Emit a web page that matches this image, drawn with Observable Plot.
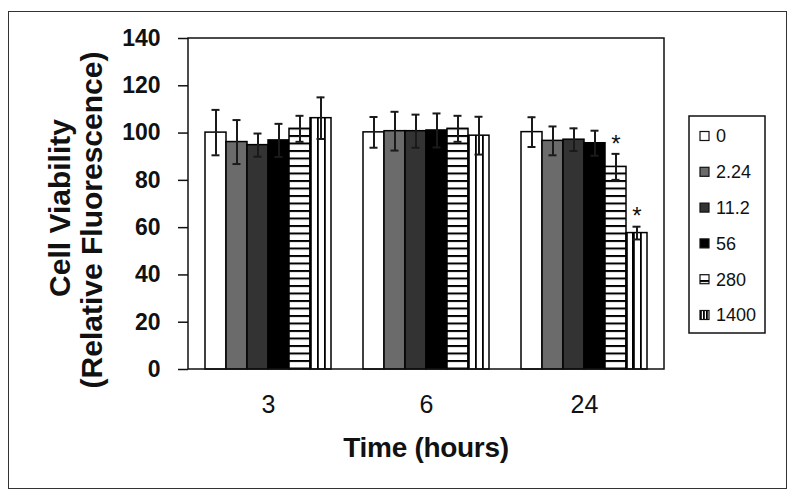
<!DOCTYPE html>
<html><head><meta charset="utf-8">
<script src="https://cdn.jsdelivr.net/npm/d3@7"></script>
<script src="https://cdn.jsdelivr.net/npm/@observablehq/plot@0.6"></script>
<style>
body{margin:0;background:#fff;font-family:"Liberation Sans",Arial,sans-serif;}
#wrap{position:relative;width:800px;height:502px;overflow:hidden;}
#border{position:absolute;left:8px;top:11px;width:779px;height:478px;border:1.5px solid #333;box-sizing:border-box;}
#chart{position:absolute;left:0;top:0;}
#legend{position:absolute;left:688px;top:115px;}
</style></head><body>
<div id="wrap"><div id="border"></div><div id="chart"></div><div id="legend"></div></div>
<script>
// ---- data ----
const times = ["3", "6", "24"];
const concentrations = ["0", "2.24", "11.2", "56", "280", "1400"];
const means3  = [100.2, 96.2, 94.9, 96.9, 101.8, 106.3];
const errs3   = [9.6, 9.3, 4.9, 7.0, 5.5, 8.8];
const means6  = [100.3, 100.8, 100.8, 101.1, 101.8, 98.9];
const errs6   = [6.5, 8.2, 7.0, 7.2, 5.5, 8.0];
const means24 = [100.4, 96.7, 97.2, 95.7, 85.7, 57.7];
const errs24  = [6.3, 6.1, 4.8, 5.3, 5.5, 2.7];
const signif24 = [false, false, false, false, true, true];
const yTicks = [0, 20, 40, 60, 80, 100, 120, 140];
const fills = ["#ffffff", "#6b6b6b", "#333333", "#000000", "url(#hstripes)", "url(#vstripes)"];

const series = {"3": [means3, errs3, null], "6": [means6, errs6, null], "24": [means24, errs24, signif24]};
const data = [];
for (const t of times) {
  const [m, e, s] = series[t];
  concentrations.forEach((c, i) => data.push({time: t, conc: c, mean: m[i], err: e[i], sig: s ? s[i] : false}));
}

const FONT = '"Liberation Sans", Arial, Helvetica, sans-serif';
const base = {
  width: 800, height: 502,
  marginLeft: 188, marginRight: 136, marginTop: 38, marginBottom: 133,
  style: {fontFamily: FONT, color: "#111", background: "transparent", overflow: "visible"},
  fx: {domain: times, paddingInner: 0.2, paddingOuter: 0.1, label: null},
  x: {domain: concentrations, padding: 0, axis: null},
  y: {domain: [0, 140], label: null},
  color: {domain: concentrations, range: fills}
};
const dataMarks = [
  Plot.barY(data, {fx: "time", x: "conc", y: "mean", fill: "conc", stroke: "#000", strokeWidth: 1.5}),
  Plot.ruleX(data, {fx: "time", x: "conc", y1: d => d.mean - d.err, y2: d => d.mean + d.err, stroke: "#1a1a1a", strokeWidth: 2}),
  Plot.tickY(data, {fx: "time", x: "conc", y: d => d.mean + d.err, insetLeft: 6.5, insetRight: 6.5, stroke: "#1a1a1a", strokeWidth: 2}),
  Plot.tickY(data, {fx: "time", x: "conc", y: d => d.mean - d.err, insetLeft: 6.5, insetRight: 6.5, stroke: "#1a1a1a", strokeWidth: 2}),
  Plot.text(data.filter(d => d.sig), {fx: "time", x: "conc", y: d => d.mean + d.err, text: () => "*", dy: -10, fontSize: 24, fill: "#111"})
];
// probe the facet scale so the y axis sits on the frame edge rather than the first facet edge
const probe = Plot.plot({...base, marks: dataMarks});
const fxp = probe.scale("fx");
const axisOffset = fxp.apply(times[0]) - fxp.range[0];

const chart = Plot.plot({
  ...base,
  marks: [
    ...dataMarks,
    Plot.axisY({ticks: yTicks, tickSize: 10, tickPadding: 18, fontSize: 23, fontWeight: "bold", label: null, stroke: "#111", strokeWidth: 1.5, dx: -axisOffset}),
    Plot.axisFx({anchor: "bottom", tickSize: 0, tickPadding: 26, fontSize: 25, label: null})
  ]
});
document.getElementById("chart").appendChild(chart);

const svg = d3.select(chart);
const defs = svg.insert("defs", ":first-child");
const ph = defs.append("pattern").attr("id", "hstripes").attr("patternUnits", "userSpaceOnUse")
  .attr("width", 10).attr("height", 7.5);
ph.append("rect").attr("width", 10).attr("height", 7.5).attr("fill", "#fff");
ph.append("rect").attr("y", 0).attr("width", 10).attr("height", 2).attr("fill", "#000");
const pv = defs.append("pattern").attr("id", "vstripes").attr("patternUnits", "objectBoundingBox")
  .attr("width", 1 / 3).attr("height", 1);
pv.append("rect").attr("width", 100).attr("height", 2000).attr("fill", "#fff");
pv.append("rect").attr("x", 0).attr("width", 1.8).attr("height", 2000).attr("fill", "#000");

// plot frame from the library's scales
const ys = chart.scale("y"), fxs = chart.scale("fx");
const [y0, y1] = ys.range;
const [x0, x1] = fxs.range;
svg.append("rect").attr("x", x0).attr("y", Math.min(y0, y1)).attr("width", x1 - x0).attr("height", Math.abs(y0 - y1))
  .attr("fill", "none").attr("stroke", "#111").attr("stroke-width", 1.5);

// titles
svg.append("text").attr("transform", "translate(70,208) rotate(-90)").attr("text-anchor", "middle")
  .style("font", `bold 30px ${FONT}`).attr("fill", "#111").text("Cell Viability");
svg.append("text").attr("transform", "translate(102,220) rotate(-90)").attr("text-anchor", "middle")
  .style("font", `bold 30px ${FONT}`).attr("fill", "#111").text("(Relative Fluorescence)");
svg.append("text").attr("x", (x0 + x1) / 2).attr("y", 457).attr("text-anchor", "middle")
  .style("font", `bold 28px ${FONT}`).style("letter-spacing", "-0.3px").attr("fill", "#111").text("Time (hours)");

// legend
const lg = d3.select("#legend").append("svg").attr("width", 80).attr("height", 222);
lg.append("rect").attr("x", 1).attr("y", 1).attr("width", 76).attr("height", 217)
  .attr("fill", "#fff").attr("stroke", "#111").attr("stroke-width", 1.5);
concentrations.forEach((c, i) => {
  const cy = 21 + i * 35.8;
  lg.append("rect").attr("x", 12).attr("y", cy - 4.5).attr("width", 9).attr("height", 9)
    .attr("fill", fills[i]).attr("stroke", "#111").attr("stroke-width", 1.2);
  lg.append("text").attr("x", 28).attr("y", cy).attr("dy", "0.35em")
    .style("font", `18px ${FONT}`).attr("fill", "#111").text(c);
});
</script>
</body></html>
